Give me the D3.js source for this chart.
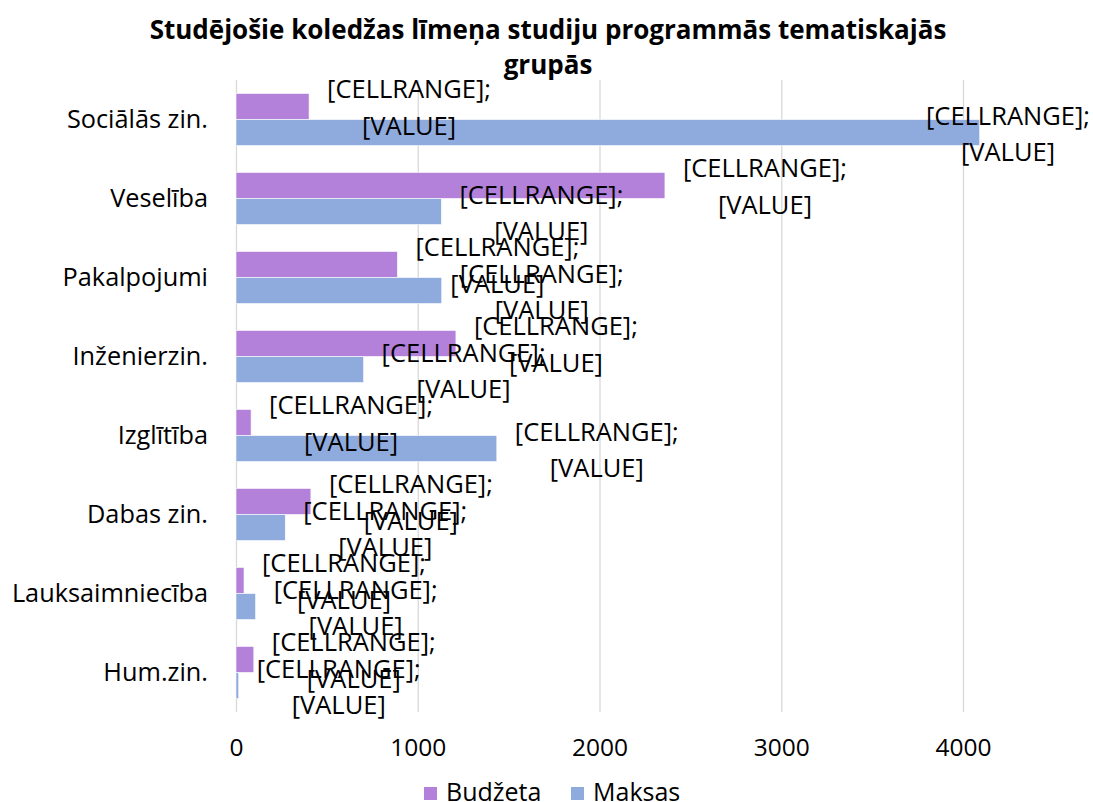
<!DOCTYPE html>
<html>
<head>
<meta charset="utf-8">
<script src="https://cdn.jsdelivr.net/npm/d3@7"></script>
<style>
  body { margin: 0; background: #fff; }
  svg { display: block; }
</style>
</head>
<body>
<svg id="chart"></svg>
<script>
const categories = ['Sociālās zin.', 'Veselība', 'Pakalpojumi', 'Inženierzin.', 'Izglītība', 'Dabas zin.', 'Lauksaimniecība', 'Hum.zin.'];
const seriesNames = ['Budžeta', 'Maksas'];
const budzetaValues = [402, 2360, 888, 1210, 83, 412, 44, 98];
const maksasValues = [4092, 1130, 1132, 702, 1435, 271, 108, 15];
const xTicks = [0, 1000, 2000, 3000, 4000];
const titleLines = ['Studējošie koledžas līmeņa studiju programmās tematiskajās', 'grupās'];
const labelLines = ['[CELLRANGE];', '[VALUE]'];

const COLORS = ['#b381d9', '#8faadc'];
const width = 1093;
const height = 802;
const FONT = 'Open Sans, sans-serif';

const svg = d3.select('#chart')
    .attr('width', width)
    .attr('height', height);

const x = d3.scaleLinear().domain([0, 4000]).range([236, 963]);
const y = d3.scaleBand().domain(categories).range([80, 712]).paddingInner(0.34).paddingOuter(0.17);
const ySub = d3.scaleBand().domain(seriesNames).range([0, y.bandwidth()]);

// title
svg.append('g')
    .selectAll('text')
    .data(titleLines)
    .join('text')
    .attr('x', 548)
    .attr('y', (d, i) => 39 + i * 35)
    .attr('text-anchor', 'middle')
    .attr('font-family', FONT)
    .attr('font-weight', 'bold')
    .attr('font-size', 26)
    .attr('fill', '#000')
    .text(d => d);

// gridlines
svg.append('g')
    .attr('transform', 'translate(0,712)')
    .call(d3.axisBottom(x).tickValues(xTicks).tickSize(-632).tickFormat(''))
    .call(g => g.select('.domain').remove())
    .call(g => g.selectAll('line').attr('stroke', '#d9d9d9').attr('stroke-width', 1.3));

// x tick labels
svg.append('g')
    .attr('transform', 'translate(0,712)')
    .call(d3.axisBottom(x).tickValues(xTicks).tickSize(0).tickPadding(27).tickFormat(d3.format('d')))
    .call(g => g.select('.domain').remove())
    .call(g => g.selectAll('text').attr('font-family', FONT).attr('font-size', 24.5).attr('fill', '#000'));

// category labels
svg.append('g')
    .attr('transform', 'translate(236,0)')
    .call(d3.axisLeft(y).tickSize(0).tickPadding(28))
    .call(g => g.select('.domain').remove())
    .call(g => g.selectAll('text').attr('font-family', FONT).attr('font-size', 25.3).attr('fill', '#000'));

const rows = categories.map((c, i) => ({ category: c, values: [budzetaValues[i], maksasValues[i]] }));
const bars = rows.flatMap(r => r.values.map((v, s) => ({ category: r.category, series: seriesNames[s], idx: s, value: v })));

svg.append('g')
    .selectAll('rect')
    .data(bars)
    .join('rect')
    .attr('x', x(0))
    .attr('y', d => y(d.category) + ySub(d.series))
    .attr('width', d => x(d.value) - x(0))
    .attr('height', ySub.bandwidth())
    .attr('fill', d => COLORS[d.idx])
    .attr('stroke', '#fff')
    .attr('stroke-width', 0.6);

// data labels (placeholder text as in the source)
const labelGroup = svg.append('g');
bars.forEach(d => {
    const cy = y(d.category) + ySub(d.series) + ySub.bandwidth() / 2;
    const t = labelGroup.append('text')
        .attr('font-family', FONT)
        .attr('font-size', 25.5)
        .attr('fill', '#000')
        .attr('text-anchor', 'middle');
    t.selectAll('tspan')
        .data(labelLines)
        .join('tspan')
        .attr('x', 0)
        .attr('y', (l, i) => cy + (i === 0 ? -8 : 28.5))
        .text(l => l);
    const w = t.node().getBBox().width;
    const left = Math.min(x(d.value) + 18, 1090 - w);
    t.selectAll('tspan').attr('x', left + w / 2);
});

// legend
const legend = svg.append('g').attr('transform', 'translate(424,787)');
const legendX = [0, 147];
seriesNames.forEach((name, i) => {
    const g = legend.append('g').attr('transform', `translate(${ legendX[i] },0)`);
    g.append('rect').attr('width', 13).attr('height', 13).attr('fill', COLORS[i]);
    g.append('text')
        .attr('x', 22)
        .attr('y', 14)
        .attr('font-family', FONT)
        .attr('font-size', 25)
        .attr('fill', '#000')
        .text(name);
});
</script>
</body>
</html>
